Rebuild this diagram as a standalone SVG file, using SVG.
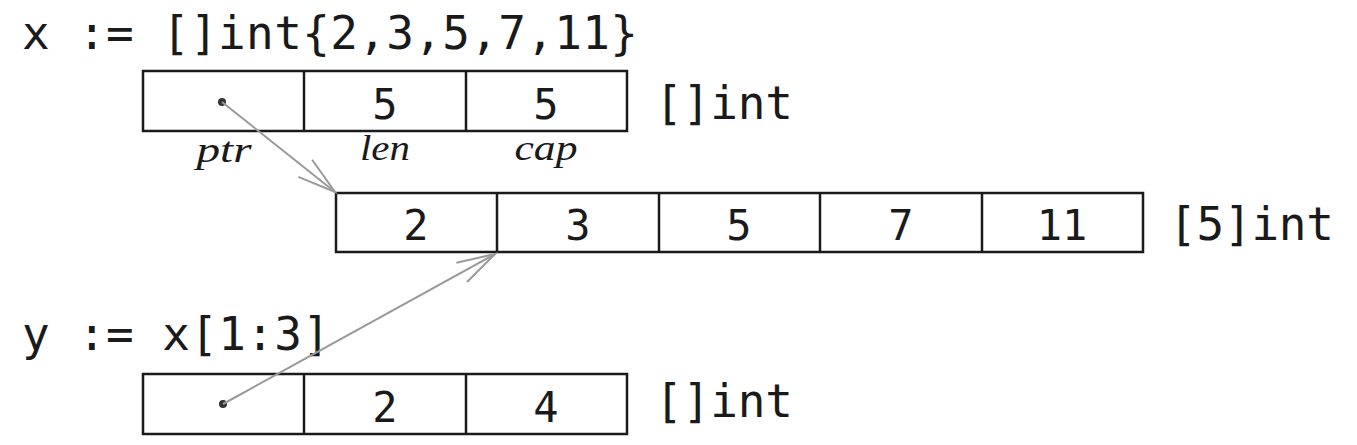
<svg xmlns="http://www.w3.org/2000/svg" width="1357" height="445" viewBox="0 0 1357 445">
<style>
.code{font-family:"DejaVu Sans Mono","Liberation Mono",monospace;font-size:46px;fill:#1a1a1a}
.num{font-family:"DejaVu Sans Mono","Liberation Mono",monospace;font-size:42px;fill:#1a1a1a;text-anchor:middle}
.lbl{font-family:"Liberation Serif","DejaVu Serif",serif;font-style:italic;font-size:36px;fill:#1a1a1a;text-anchor:middle}
.box{fill:#fff;stroke:#1a1a1a;stroke-width:2.5}
.div{stroke:#1a1a1a;stroke-width:2.5}
.arrow{stroke:#9a9a9a;stroke-width:2;fill:none}
.dot{fill:#333}
</style>
<defs>
<marker id="ah" viewBox="-42 -14 46 28" markerWidth="46" markerHeight="28" refX="0" refY="0" markerUnits="userSpaceOnUse" orient="auto">
<path d="M-38,-11 L0,0 L-38,11" fill="none" stroke="#9a9a9a" stroke-width="2"/>
</marker>
</defs>
<rect width="1357" height="445" fill="#fff"/>
<g id="code-x">
<text class="code" x="22" y="49" textLength="616" lengthAdjust="spacing">x := []int{2,3,5,7,11}</text>
</g>
<g id="slice-x">
<rect class="box" x="143" y="71" width="484" height="60"/>
<line class="div" x1="304" y1="71" x2="304" y2="131"/>
<line class="div" x1="466" y1="71" x2="466" y2="131"/>
<circle class="dot" cx="222" cy="102" r="4"/>
<text class="num" x="385" y="119">5</text>
<text class="num" x="546" y="119">5</text>
<text class="lbl" x="224" y="162" textLength="55" lengthAdjust="spacingAndGlyphs">ptr</text>
<text class="lbl" x="385" y="160" textLength="50" lengthAdjust="spacingAndGlyphs">len</text>
<text class="lbl" x="546" y="160" textLength="63" lengthAdjust="spacingAndGlyphs">cap</text>
<text class="code" x="655" y="119" textLength="138" lengthAdjust="spacing">[]int</text>
</g>
<g id="array">
<rect class="box" x="336" y="193" width="807" height="59"/>
<line class="div" x1="497" y1="193" x2="497" y2="252"/>
<line class="div" x1="659" y1="193" x2="659" y2="252"/>
<line class="div" x1="820" y1="193" x2="820" y2="252"/>
<line class="div" x1="982" y1="193" x2="982" y2="252"/>
<text class="num" x="416" y="240">2</text>
<text class="num" x="578" y="240">3</text>
<text class="num" x="739" y="240">5</text>
<text class="num" x="901" y="240">7</text>
<text class="num" x="1062" y="240">11</text>
<text class="code" x="1169" y="240" textLength="165" lengthAdjust="spacing">[5]int</text>
</g>
<g id="code-y">
<text class="code" x="22" y="350" textLength="308" lengthAdjust="spacing">y := x[1:3]</text>
</g>
<g id="slice-y">
<rect class="box" x="143" y="374" width="484" height="60"/>
<line class="div" x1="304" y1="374" x2="304" y2="434"/>
<line class="div" x1="466" y1="374" x2="466" y2="434"/>
<circle class="dot" cx="223" cy="404" r="4"/>
<text class="num" x="385" y="422">2</text>
<text class="num" x="546" y="422">4</text>
<text class="code" x="655" y="417" textLength="138" lengthAdjust="spacing">[]int</text>
</g>
<g id="connectors">
<line class="arrow" x1="222" y1="102" x2="335" y2="192" marker-end="url(#ah)"/>
<line class="arrow" x1="223" y1="404" x2="495" y2="254" marker-end="url(#ah)"/>
</g>
</svg>
